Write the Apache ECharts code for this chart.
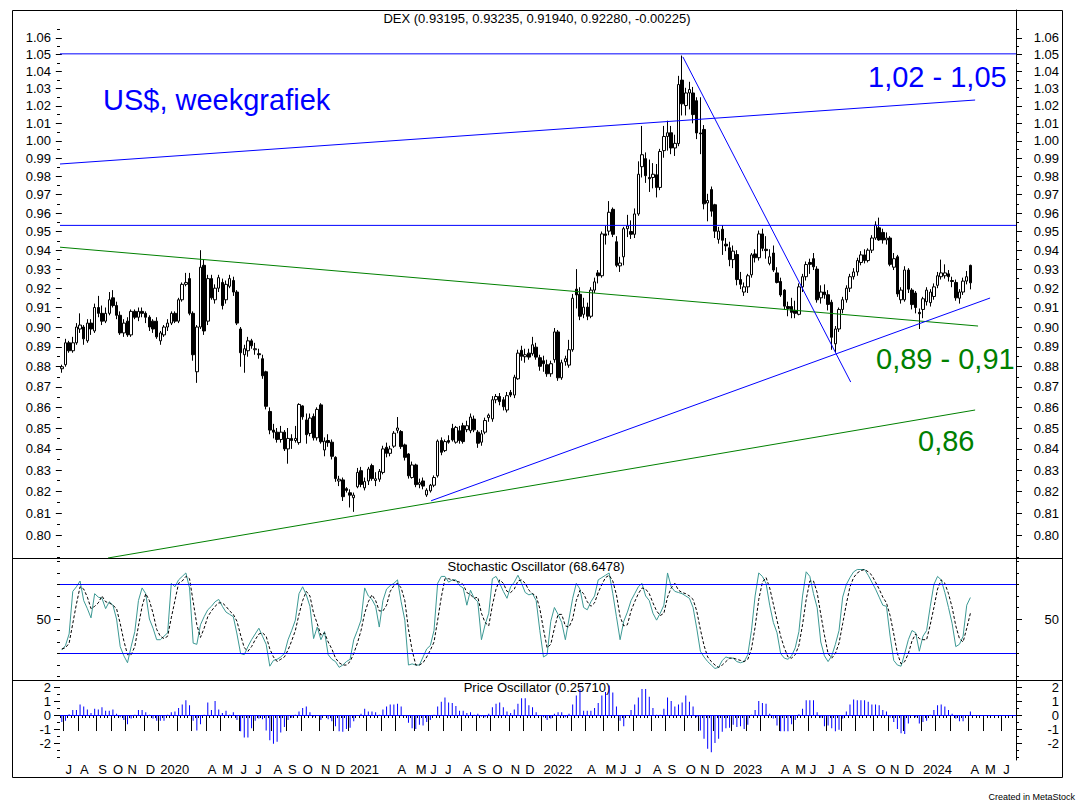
<!DOCTYPE html>
<html>
<head>
<meta charset="utf-8">
<script src="https://cdn.jsdelivr.net/npm/echarts@6.0.0/dist/echarts.min.js"></script>
<style>
  html, body { margin: 0; padding: 0; background: #fff; }
  #chart { width: 1078px; height: 812px; }
</style>
</head>
<body>
<div id="chart"></div>
<script>
// weekly bars, first one is the week ending 2019-06-28
const weekCount = 262;
const monthLetters = ['J', 'F', 'M', 'A', 'M', 'J', 'J', 'A', 'S', 'O', 'N', 'D'];

const opens = [
  .879,.881,.892,.888,.892,.899,.900,.893,.902,.898,
  .910,.907,.903,.907,.915,.911,.906,.897,.903,.896,
  .908,.905,.908,.907,.905,.903,.903,.893,.896,.900,
  .902,.907,.903,.914,.922,.925,.907,.8775,.900,.932,
  .903,.925,.914,.920,.923,.914,.921,.924,.918,.899,
  .886,.888,.893,.8885,.8865,.884,.8775,.858,.849,.848,
  .8445,.848,.840,.845,.844,.843,.8607,.8539,.8474,.8556,
  .8453,.8612,.8395,.844,.8432,.836,.8249,.8254,.8213,.8194,
  .8171,.8222,.8297,.8217,.8249,.8321,.8251,.8257,.8289,.8408,
  .8379,.8413,.8489,.8483,.8419,.8376,.8265,.8324,.8233,.8249,
  .8184,.8203,.8229,.8273,.844,.8392,.844,.8498,.8432,.8487,
  .8511,.8492,.8487,.8543,.848,.8432,.848,.855,.8544,.8637,
  .8653,.8637,.8587,.8673,.866,.874,.8882,.885,.8868,.8865,
  .8898,.8845,.883,.881,.8765,.8835,.8975,.8745,.8825,.8808,
  .8885,.9195,.9168,.9065,.9102,.9055,.919,.928,.9265,.9487,
  .9502,.962,.9445,.9317,.9365,.9515,.950,.9485,.9595,.9855,
  .990,.9795,.9795,.981,.974,.9945,1.0025,1.0046,.996,.9985,
  1.035,1.0202,1.0275,1.0275,1.023,1.0045,1.0065,.9655,.9728,.9645,
  .9458,.9512,.9432,.9413,.935,.9377,.9245,.918,.9207,.927,
  .938,.936,.9487,.9405,.933,.9385,.928,.9235,.919,.9105,
  .9105,.9085,.9065,.9207,.926,.9335,.9355,.930,.915,.918,
  .9166,.9127,.8915,.899,.909,.914,.920,.926,.9285,.9335,
  .9375,.9345,.940,.9465,.952,.9495,.9455,.9465,.931,.9365,
  .914,.914,.9295,.919,.9175,.9075,.909,.913,.9125,.9157,
  .9215,.926,.9265,.9275,.924,.923,.9148,.918,.9237,.93195
];
const highs = [
  .881,.894,.893,.895,.902,.907,.901,.904,.904,.912,
  .916,.911,.910,.918,.919,.913,.908,.904,.905,.909,
  .909,.910,.910,.908,.906,.904,.905,.898,.901,.904,
  .908,.908,.915,.923,.928,.928,.908,.901,.940,.935,
  .927,.927,.922,.927,.925,.924,.927,.926,.919,.900,
  .891,.895,.894,.892,.889,.886,.878,.860,.852,.850,
  .851,.849,.850,.847,.851,.862,.861,.857,.857,.857,
  .860,.862,.8455,.847,.8445,.8365,.8273,.8265,.822,.821,
  .8195,.831,.8315,.8265,.8315,.833,.829,.8305,.8415,.843,
  .8415,.8485,.8553,.849,.8425,.838,.834,.833,.826,.8265,
  .8215,.8235,.8275,.8445,.8455,.8445,.8465,.852,.851,.851,
  .8525,.8535,.857,.856,.849,.849,.855,.857,.8655,.8665,
  .867,.865,.8675,.8685,.876,.8885,.8905,.889,.889,.895,
  .892,.886,.8855,.8835,.883,.8995,.8985,.8835,.8855,.8935,
  .917,.930,.9205,.915,.9125,.9205,.9255,.9295,.950,.953,
  .9665,.963,.9475,.9365,.9525,.959,.956,.9625,.9885,1.0085,
  .9935,.9895,.9875,.987,.9955,1.0085,1.0115,1.0085,1.0035,1.0375,
  1.0495,1.0305,1.034,1.031,1.025,1.025,1.009,.9705,.9745,.965,
  .9525,.9535,.9465,.9445,.9425,.940,.9285,.923,.9275,.9385,
  .9405,.9505,.9515,.9475,.9405,.9425,.931,.9255,.9195,.913,
  .915,.9135,.9225,.9275,.934,.9355,.9385,.9315,.9215,.922,
  .919,.914,.9005,.910,.9155,.9215,.9275,.9305,.936,.9395,
  .9405,.941,.948,.9555,.9575,.9515,.9495,.9475,.9385,.9375,
  .9205,.9315,.9305,.920,.9185,.9095,.9155,.9205,.9195,.9225,
  .9285,.935,.9325,.9295,.926,.9245,.9195,.9255,.929,.93235
];
const lows = [
  .877,.880,.887,.887,.891,.897,.891,.892,.896,.897,
  .905,.901,.902,.906,.910,.904,.896,.895,.895,.895,
  .904,.903,.905,.902,.898,.897,.894,.891,.895,.898,
  .901,.902,.902,.913,.921,.906,.883,.872,.899,.896,
  .901,.914,.912,.918,.909,.912,.920,.916,.901,.880,
  .877,.885,.889,.886,.884,.874,.859,.847,.845,.843,
  .843,.839,.833,.840,.843,.842,.854,.8425,.846,.844,
  .844,.8425,.8365,.841,.835,.8245,.8225,.8156,.8195,.8126,
  .8106,.8215,.822,.8205,.823,.825,.8225,.8245,.828,.836,
  .8365,.8405,.8475,.840,.8345,.826,.826,.822,.8215,.821,
  .8175,.8195,.822,.8265,.837,.8385,.8425,.8435,.8425,.8425,
  .8425,.848,.8475,.848,.8405,.8415,.847,.853,.853,.862,
  .861,.8585,.8575,.865,.8645,.8735,.883,.882,.8835,.8855,
  .8835,.878,.8775,.875,.875,.882,.873,.8735,.8805,.8795,
  .8875,.9095,.9035,.9045,.9035,.9045,.9175,.9225,.9255,.943,
  .948,.947,.931,.9285,.932,.947,.946,.9465,.9585,.9795,
  .9765,.9715,.9735,.9685,.9725,.9905,.9945,.9925,.9915,.997,
  1.0145,1.0145,1.018,1.010,1.001,.9925,.962,.9555,.958,.9465,
  .9435,.9375,.9395,.9315,.9305,.9215,.9195,.916,.9175,.9255,
  .9335,.9345,.9395,.9355,.932,.9285,.9225,.9155,.909,.9055,
  .9045,.9045,.906,.918,.924,.9275,.9295,.9125,.912,.9145,
  .9085,.8885,.8873,.8975,.907,.9125,.918,.9245,.9265,.932,
  .933,.9335,.9385,.9455,.945,.9435,.943,.9315,.9295,.9155,
  .912,.913,.9175,.909,.907,.899,.9045,.911,.9105,.914,
  .920,.9245,.925,.9235,.9205,.9135,.912,.9165,.922,.9194
];
const closes = [
  .880,.892,.888,.892,.900,.901,.894,.902,.899,.910,
  .907,.903,.907,.914,.911,.906,.897,.902,.896,.908,
  .905,.908,.907,.905,.900,.899,.895,.897,.900,.902,
  .907,.903,.914,.922,.923,.907,.886,.900,.931,.898,
  .925,.915,.920,.9255,.911,.922,.925,.918,.902,.887,
  .889,.893,.8905,.889,.886,.8755,.8605,.849,.848,.8445,
  .848,.840,.845,.844,.845,.8614,.8554,.8468,.8548,.8453,
  .859,.8434,.8437,.843,.8365,.826,.8257,.8176,.8205,.8183,
  .8183,.8289,.8233,.8246,.8305,.826,.8259,.8294,.840,.8379,
  .840,.8475,.850,.8411,.836,.8273,.8324,.8232,.8241,.8225,
  .8206,.8229,.8265,.8437,.8384,.8435,.8432,.8443,.8503,.844,
  .8435,.8511,.8553,.8491,.8427,.8472,.8536,.8562,.8637,.8653,
  .8628,.8603,.8657,.866,.8748,.8868,.8852,.886,.8848,.891,
  .8848,.8802,.8815,.8765,.8815,.8975,.8745,.882,.884,.8885,
  .9148,.9165,.9055,.9102,.9055,.919,.9233,.9265,.9487,.9479,
  .9604,.9485,.932,.9332,.9515,.953,.9485,.9595,.9813,.9922,
  .9805,.9788,.9813,.974,.994,1.0025,1.0046,.996,.9986,1.0324,
  1.0212,1.0275,1.0295,1.015,1.0045,1.004,.965,.9668,.961,.9502,
  .9502,.9453,.9423,.935,.9395,.9245,.922,.9207,.9265,.9375,
  .936,.9487,.941,.9398,.9365,.9295,.923,.9165,.9107,.9095,
  .9075,.907,.9207,.926,.9324,.9325,.9312,.914,.918,.9166,
  .9116,.8948,.899,.909,.914,.920,.926,.9285,.9345,.9375,
  .9345,.940,.9465,.9535,.9455,.9455,.9465,.9325,.9355,.917,
  .919,.9295,.9195,.9115,.910,.9068,.9145,.919,.918,.9207,
  .9265,.928,.928,.926,.9235,.915,.918,.9237,.926,.9228
];

// stochastic %K (teal) and %D (dotted)
const stochK = [
  23,27,37,74,78,83,66,59,51,72, 69,68,59,65,62,50,26,18,12,26,
  39,66,77,72,50,42,32,32,35,38, 81,78,84,87,90,77,29,28,45,52,
  58,61,65,67,61,56,54,52,37,20, 19,26,32,37,42,35,28,9,14,15,
  17,20,32,40,49,72,78,71,61,33, 43,32,39,19,15,13,8,10,13,15,
  32,40,49,77,70,67,61,43,66,76, 79,81,84,65,49,10,11,10,10,17,
  24,27,40,81,87,87,82,84,84,79, 77,62,75,68,65,32,45,55,85,87,
  81,74,68,78,82,88,81,73,71,72, 66,40,17,19,48,60,54,47,32,50,
  68,81,76,60,58,65,70,84,86,88, 90,72,52,32,48,56,66,72,78,81,
  70,66,55,49,55,62,90,78,74,73, 72,70,68,60,42,22,17,13,10,7,
  8,14,17,16,16,13,12,13,19,40, 70,90,87,81,62,47,38,20,16,15,
  18,25,39,70,91,87,72,60,30,18, 13,18,28,40,69,80,86,91,93,93,
  93,88,82,76,69,62,61,35,14,10, 9,20,32,40,38,22,35,40,61,80,
  87,84,73,60,46,26,28,35,62,68.65
];
const stochD = [
  24,25,29,46,63,78,76,69,59,61, 64,70,65,64,62,59,46,31,19,19,
  26,44,61,72,66,55,41,35,33,35, 51,66,81,83,87,85,65,45,34,42,
  52,57,61,64,64,61,57,54,48,36, 25,22,26,32,37,38,35,24,17,13,
  15,17,23,31,40,54,66,74,70,55, 46,36,38,30,24,16,12,10,10,13,
  20,29,40,55,65,71,66,57,57,62, 74,79,81,77,66,41,23,10,10,12,
  17,23,30,49,69,85,85,84,83,82, 80,73,71,68,69,55,47,44,62,76,
  84,81,74,73,76,83,84,81,75,72, 70,59,41,25,28,42,54,54,44,43,
  50,66,75,72,65,61,64,73,80,86, 88,83,71,52,44,45,57,65,72,77,
  76,72,64,57,53,55,69,77,81,75, 73,72,70,67,57,41,27,17,13,10,
  8,10,13,16,16,15,14,13,15,24, 43,67,82,86,77,63,49,35,25,17,
  16,19,27,45,67,83,83,73,54,36, 20,16,20,29,46,63,78,86,90,92,
  93,91,88,82,76,69,64,53,37,20, 11,13,20,31,37,33,32,32,45,60,
  76,84,81,72,60,44,33,30,42,55
];
const stochLevels = [80, 20];

const priceOsc = [
  -0.5,-0.4,0.05,0.35,0.35,0.75,0.6,0.4,0.15,0.45,
  0.4,0.55,0.3,0.3,0.4,0.1,-0.15,-0.35,-0.65,-0.25,
  0.02,0.35,0.35,0.2,0.02,-0.25,-0.4,-0.4,-0.4,0.02,
  0.2,0.25,0.5,0.75,1.05,0.7,-0.4,-1.1,-0.65,0.02,
  0.9,0.35,1.0,0.4,0.15,0.3,0.02,0.2,-0.35,-1.15,
  -1.6,-1.6,-0.95,-0.4,-0.25,-0.3,-1.1,-1.8,-2.05,-1.9,
  -1.25,-0.85,-0.35,-0.2,0.02,0.25,0.5,0.6,0.2,-0.1,
  -0.02,-0.35,-0.05,-0.3,-0.45,-0.8,-1.15,-1.2,-1.0,-0.9,
  -0.45,-0.02,0.1,0.45,0.25,0.25,0.2,0.02,0.4,0.6,
  0.75,0.75,0.8,0.6,-0.02,-0.55,-0.95,-1.0,-0.7,-0.75,
  -0.5,-0.35,0.02,0.6,0.95,1.25,0.9,0.85,0.65,0.3,
  0.3,0.15,0.2,0.02,0.1,-0.1,-0.15,0.1,0.55,0.8,
  0.9,0.55,0.25,0.15,0.4,0.8,1.2,1.2,0.7,0.55,
  0.2,-0.05,-0.15,-0.35,-0.25,0.1,0.2,0.2,-0.15,0.1,
  0.75,1.4,1.85,0.3,0.3,0.3,0.5,0.85,1.4,1.65,
  2.1,1.6,0.6,-0.4,-0.8,-0.05,0.35,0.75,1.25,1.85,
  1.85,1.3,0.5,0.02,0.02,0.45,1.25,1.0,0.6,0.75,
  0.9,1.4,0.95,0.6,-0.15,-1.1,-1.7,-2.4,-2.65,-2.0,
  -1.7,-1.2,-0.95,-0.9,-0.7,-0.85,-0.8,-1.0,-0.7,0.02,
  0.35,1.0,0.85,0.8,0.1,-0.25,-0.75,-1.15,-1.15,-1.15,
  -0.65,-0.35,0.05,0.45,1.05,1.05,1.05,0.2,-0.2,-0.8,
  -0.75,-0.95,-1.15,-1.05,-0.25,0.25,0.75,1.1,1.05,1.05,
  1.05,0.95,0.75,0.75,0.7,0.35,0.25,-0.2,-0.5,-1.0,
  -1.3,-1.35,-0.6,-0.05,-0.15,-0.6,-0.5,-0.4,0.02,0.35,
  0.7,0.75,0.6,0.35,0.1,-0.25,-0.45,-0.45,-0.02,0.257
];

// hand drawn lines: [week index, price] end points
const resistanceTop = [[-0.5, 1.0505], [261.5, 1.0505]];
const resistanceMid = [[-0.5, 0.9533], [261.5, 0.9533]];
const channelBlue = [[-0.5, 0.987], [250.3, 1.0234]];
const channelGreen = [[-0.5, 0.9416], [251.1, 0.9005]];
const supportGreen = [[12.65, 0.7897], [250.3, 0.8587]];
const supportBlue = [[101.2, 0.8157], [254.4, 0.9149]];
const downTrend = [[170.2, 1.0487], [216.2, 0.8724]];

// axis ticks
const priceLabels = [0.80,0.81,0.82,0.83,0.84,0.85,0.86,0.87,0.88,0.89,0.90,0.91,0.92,
  0.93,0.94,0.95,0.96,0.97,0.98,0.99,1.00,1.01,1.02,1.03,1.04,1.05,1.06];
const priceRange = [0.7897, 1.0769];
const stochLabels = [50];
const stochMinor = [0, 10, 20, 30, 40, 60, 70, 80, 90, 100];
const oscLabels = [-2, -1, 0, 1, 2];
const oscMinor = [-3, -2.5, -1.5, -0.5, 0.5, 1.5, 2.5];

const FONT = '"Liberation Sans", Arial, sans-serif';
const ln = Math.log;

const weeks = [];
for (let i = 0; i < weekCount; i++) {
  weeks.push(new Date(Date.UTC(2019, 5, 28 + 7 * i)).toISOString().slice(0, 10));
}
const monthOf = i => +weeks[i].slice(5, 7) - 1;
const isMonthStart = i => i > 0 && monthOf(i) !== monthOf(i - 1);
const showMonthLabel = i => isMonthStart(i) && monthOf(i) !== 1 && monthOf(i) !== 2;
const monthLabel = i => monthOf(i) === 0 ? weeks[i].slice(0, 4) : monthLetters[monthOf(i)];

const priceMinor = priceLabels.map(v => v + 0.005).concat([0.79, 0.795]);

function sideAxes(grid, side, range, labels, minor, fmt, tf) {
  const t = tf || (v => v);
  const base = {
    type: 'value', gridIndex: grid, position: side,
    min: t(range[0]), max: t(range[1]), splitLine: { show: false }
  };
  return [
    Object.assign({}, base, {
      axisLine: { show: side === 'right', lineStyle: { color: '#000', width: 1 } },
      axisTick: { show: true, length: 6, lineStyle: { color: '#000' }, customValues: labels.map(t) },
      axisLabel: {
        show: true, customValues: labels.map(t), formatter: fmt,
        margin: side === 'right' ? 43 : 9, align: 'right',
        color: '#000', fontSize: 13, fontFamily: FONT
      }
    }),
    Object.assign({}, base, {
      axisLine: { show: false },
      axisTick: { show: true, length: 3, lineStyle: { color: '#000' }, customValues: minor.map(t) },
      axisLabel: { show: false }
    })
  ];
}

const priceFmt = v => Math.exp(v).toFixed(2);
const yAxes = [].concat(
  sideAxes(0, 'left', priceRange, priceLabels, priceMinor, priceFmt, ln),
  sideAxes(0, 'right', priceRange, priceLabels, priceMinor, priceFmt, ln),
  sideAxes(1, 'left', [-3, 103], stochLabels, stochMinor, v => String(Math.round(v))),
  sideAxes(1, 'right', [-3, 103], stochLabels, stochMinor, v => String(Math.round(v))),
  sideAxes(2, 'left', [-3.21, 2.5], oscLabels, oscMinor, v => String(Math.round(v))),
  sideAxes(2, 'right', [-3.21, 2.5], oscLabels, oscMinor, v => String(Math.round(v)))
);

const xAxes = [
  { type: 'category', gridIndex: 0, data: weeks, boundaryGap: true, show: false },
  { type: 'category', gridIndex: 1, data: weeks, boundaryGap: true, show: false },
  {
    type: 'category', gridIndex: 2, data: weeks, boundaryGap: true, position: 'bottom',
    axisLine: { show: true, lineStyle: { color: '#000', width: 1 } },
    axisTick: { show: true, interval: 0, length: 3, lineStyle: { color: '#000' } },
    axisLabel: { show: false }
  },
  {
    type: 'category', gridIndex: 2, data: weeks, boundaryGap: true, position: 'bottom',
    axisLine: { show: false },
    axisTick: { show: true, interval: i => isMonthStart(i), length: 16, lineStyle: { color: '#000' } },
    axisLabel: {
      show: true, interval: i => showMonthLabel(i), formatter: (v, i) => monthLabel(i),
      align: 'left', margin: 3, color: '#000', fontSize: 13, fontFamily: FONT
    }
  },
  { type: 'value', gridIndex: 0, min: -0.5, max: weekCount - 0.5, show: false }
];

function drawnLine(points, color) {
  return {
    type: 'line', xAxisIndex: 4, yAxisIndex: 0, silent: true, symbol: 'none', z: 5,
    data: points.map(p => [p[0], ln(p[1])]),
    lineStyle: { color: color, width: 1 }
  };
}

function text(x, y, str, size, color, align) {
  return {
    type: 'text', x: x, y: y, silent: true,
    style: { text: str, fontSize: size, fontFamily: FONT, fill: color, align: align || 'left', verticalAlign: 'middle' }
  };
}

const chart = echarts.init(document.getElementById('chart'), null, { renderer: 'svg' });
chart.setOption({
  animation: false,
  backgroundColor: '#fff',
  textStyle: { fontFamily: FONT },
  grid: [
    { left: 60, right: 62, top: 10, height: 548 },
    { left: 60, right: 62, top: 558, height: 122 },
    { left: 60, right: 62, top: 680, height: 80 }
  ],
  xAxis: xAxes,
  yAxis: yAxes,
  series: [
    {
      type: 'candlestick', xAxisIndex: 0, yAxisIndex: 0, barWidth: 3,
      data: opens.map((o, i) => [ln(o), ln(closes[i]), ln(lows[i]), ln(highs[i])]),
      itemStyle: { color: '#ffffff', color0: '#000000', borderColor: '#000000', borderColor0: '#000000', borderWidth: 1 }
    },
    drawnLine(resistanceTop, '#0000ff'),
    drawnLine(resistanceMid, '#0000ff'),
    drawnLine(channelBlue, '#0000ff'),
    drawnLine(channelGreen, '#008000'),
    drawnLine(supportGreen, '#008000'),
    drawnLine(supportBlue, '#0000ff'),
    drawnLine(downTrend, '#0000ff'),
    {
      type: 'line', xAxisIndex: 1, yAxisIndex: 4, data: stochK, symbol: 'none',
      lineStyle: { color: '#3d9994', width: 1 },
      markLine: {
        silent: true, symbol: 'none', label: { show: false },
        lineStyle: { color: '#0000ff', width: 1, type: 'solid' },
        data: stochLevels.map(v => ({ yAxis: v }))
      }
    },
    {
      type: 'line', xAxisIndex: 1, yAxisIndex: 4, data: stochD, symbol: 'none',
      lineStyle: { color: '#000000', width: 1, type: [3, 2] }
    },
    {
      type: 'bar', xAxisIndex: 2, yAxisIndex: 8, data: priceOsc, barWidth: 1,
      itemStyle: { color: '#0000ff' },
      markLine: {
        silent: true, symbol: 'none', label: { show: false },
        lineStyle: { color: '#0000ff', width: 1, type: 'solid' },
        data: [{ yAxis: 0 }]
      }
    }
  ],
  graphic: [
    { type: 'rect', silent: true, shape: { x: 12.5, y: 10.5, width: 1050, height: 767 }, style: { fill: 'none', stroke: '#000', lineWidth: 1 } },
    { type: 'line', silent: true, shape: { x1: 12, y1: 558.5, x2: 1063, y2: 558.5 }, style: { stroke: '#000', lineWidth: 1 } },
    { type: 'line', silent: true, shape: { x1: 12, y1: 680.5, x2: 1063, y2: 680.5 }, style: { stroke: '#000', lineWidth: 1 } },
    text(537, 18.5, 'DEX (0.93195, 0.93235, 0.91940, 0.92280, -0.00225)', 13, '#000', 'center'),
    text(536, 566, 'Stochastic Oscillator (68.6478)', 13, '#000', 'center'),
    text(537, 687, 'Price Oscillator (0.25710)', 13, '#000', 'center'),
    text(103, 100, 'US$, weekgrafiek', 29, '#0000ff'),
    text(868, 77, '1,02 - 1,05', 29, '#0000ff'),
    text(876, 359, '0,89 - 0,91', 29, '#008000'),
    text(918, 441, '0,86', 29, '#008000'),
    text(1075, 797, 'Created in MetaStock', 9, '#000', 'right')
  ]
});
</script>
</body>
</html>
